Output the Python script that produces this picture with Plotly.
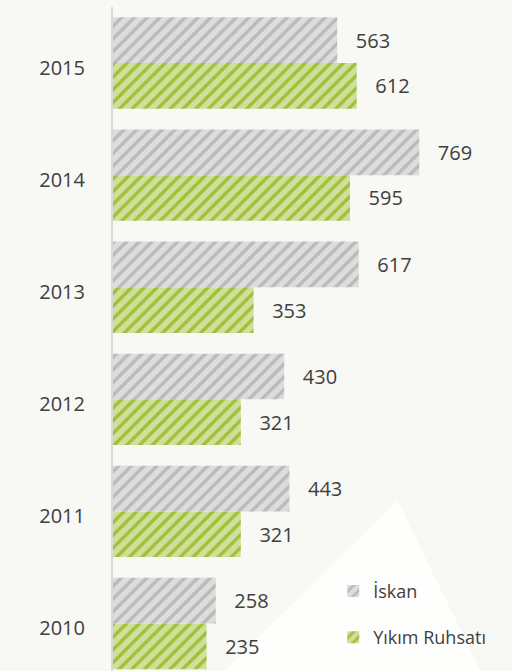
import plotly.graph_objects as go

years = ["2010", "2011", "2012", "2013", "2014", "2015"]
iskan = [258, 443, 430, 617, 769, 563]
yikim = [235, 321, 321, 353, 595, 612]
series_names = ["İskan", "Yıkım Ruhsatı"]

GRAY = "#bababa"
GREEN = "#a0c038"
TXT = "#404040"
FONT = "Open Sans"
pad = "\u00a0" * 3

fig = go.Figure()
fig.add_trace(go.Bar(
    y=years, x=yikim, orientation="h", name=series_names[1], legendgroup="b", legendrank=2,
    marker=dict(color=GREEN, line=dict(width=0),
                pattern=dict(shape="/", fgcolor="white", bgcolor=GREEN, size=9, solidity=0.62)),
    text=[pad + str(v) for v in yikim], textposition="outside", cliponaxis=False,
    textfont=dict(family=FONT, size=20, color=TXT),
))
fig.add_trace(go.Bar(
    y=years, x=iskan, orientation="h", name=series_names[0], legendgroup="a", legendrank=1,
    marker=dict(color=GRAY, line=dict(width=0),
                pattern=dict(shape="/", fgcolor="white", bgcolor=GRAY, size=9, solidity=0.62)),
    text=[pad + str(v) for v in iskan], textposition="outside", cliponaxis=False,
    textfont=dict(family=FONT, size=20, color=TXT),
))

fig.update_layout(
    width=512, height=671,
    margin=dict(l=113, r=0, t=7, b=0),
    paper_bgcolor="#f8f8f4",
    plot_bgcolor="rgba(0,0,0,0)",
    barmode="group", bargap=0.185, bargroupgap=0,
    font=dict(family=FONT, color=TXT),
    showlegend=True,
    legend=dict(x=0.552, y=0.148, xanchor="left", yanchor="top",
                traceorder="grouped", tracegroupgap=20,
                bgcolor="rgba(0,0,0,0)", font=dict(family=FONT, size=18, color=TXT),
                itemwidth=30),
    shapes=[dict(type="path", xref="paper", yref="paper",
                 path="M 0.713 0.257 L 0.246 -0.02 L 0.937 -0.02 Z",
                 fillcolor="#fefefd", line=dict(width=0), layer="below")],
)
fig.update_xaxes(range=[0, 1002], visible=False, showgrid=False, zeroline=False)
fig.update_yaxes(type="category", range=[-0.424, 5.5], showgrid=False, zeroline=False,
                 showline=True, linecolor="#d9d9d9", linewidth=2, automargin=False,
                 ticks="", ticklabelstandoff=22, ticklabelshift=5,
                 tickfont=dict(family=FONT, size=20, color=TXT))

fig.write_html("out.html", config={"displayModeBar": False},
               post_script="document.body.style.margin='0';document.body.style.overflow='hidden';")
